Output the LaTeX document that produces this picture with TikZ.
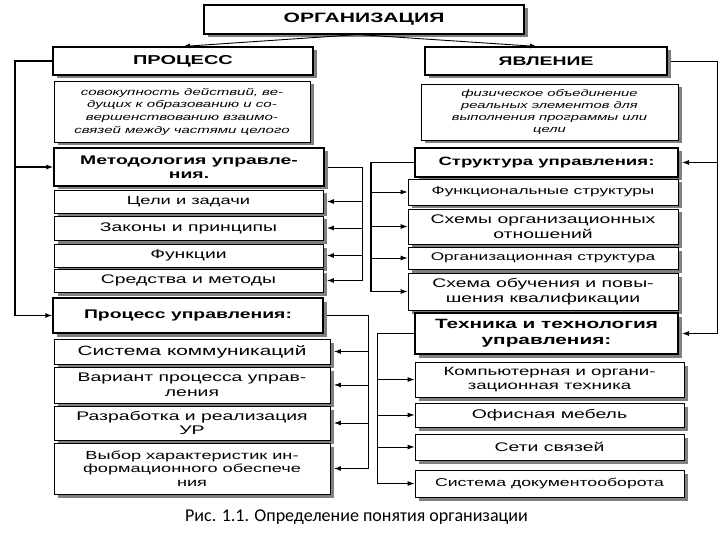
\documentclass[tikz,border=0pt]{standalone}
\usepackage{fontspec}
\setmainfont{Liberation Sans}[FakeStretch=1.55]
\newfontfamily\capfont{Carlito}
\usetikzlibrary{shadows,arrows.meta,calc}
\newcommand\fsz[2]{\fontsize{#1}{#2}\selectfont}
\begin{document}
\begin{tikzpicture}[x=1pt,y=-1pt,
  box/.style={draw=black, line width=0.9pt, fill=white, inner sep=0pt, align=center,
    drop shadow={shadow xshift=3.5pt, shadow yshift=-3.5pt, fill=black!50, opacity=1},
    font=\fsz{12.5}{14.5}},
  hbox/.style={box, line width=1.1pt, font=\fsz{12.5}{14.5}\bfseries},
  dbox/.style={box, font=\fsz{9.7}{12.7}\itshape},
  ln/.style={line width=0.9pt},
  lnt/.style={line width=1.4pt},
  arr/.style={line width=0.9pt, -{Latex[length=7pt,width=5pt]}},
  arrt/.style={line width=1.4pt, -{Latex[length=7pt,width=5pt]}}]
\useasboundingbox (0,0) rectangle (720,540);
% top
\node[hbox, minimum width=320pt, minimum height=29pt, font=\fsz{13.6}{15}\bfseries] (org) at (364,19.5) {ОРГАНИЗАЦИЯ};
\node[hbox, minimum width=260pt, minimum height=28pt, font=\fsz{12.9}{15}\bfseries] (proc) at (183,61) {ПРОЦЕСС};
\node[hbox, minimum width=242pt, minimum height=28pt] (yavl) at (546,61) {ЯВЛЕНИЕ};
\node[dbox, minimum width=256pt, minimum height=61pt] (descL) at (182,111.5)
  {совокупность действий, ве-\\дущих к образованию и со-\\вершенствованию взаимо-\\связей между частями целого};
\node[dbox, minimum width=257pt, minimum height=56pt, font=\fsz{9.5}{12.3}\itshape] (descR) at (549.5,112)
  {физическое объединение\\реальных элементов для\\выполнения программы или\\цели};
% left column
\node[hbox, minimum width=270pt, minimum height=38pt] (met) at (189,167) {Методология управле-\\ния.};
\node[box, minimum width=269pt, minimum height=23pt, font=\fsz{11.8}{14}] (celi) at (188.5,201.5) {Цели и задачи};
\node[box, minimum width=269pt, minimum height=24pt] (zak) at (188.5,228) {Законы и принципы};
\node[box, minimum width=269pt, minimum height=23pt] (funk) at (188.5,255.5) {Функции};
\node[box, minimum width=269pt, minimum height=23pt] (sred) at (188.5,280.5) {Средства и методы};
\node[hbox, minimum width=270pt, minimum height=35pt] (pu) at (188,315.5) {Процесс управления:};
\node[box, minimum width=276pt, minimum height=25pt, font=\fsz{13.4}{15}] (sk) at (192,351.5) {Система коммуникаций};
\node[box, minimum width=276pt, minimum height=36pt] (var) at (192,385) {Вариант процесса управ-\\ления};
\node[box, minimum width=276pt, minimum height=34pt] (raz) at (192,423) {Разработка и реализация\\УР};
\node[box, minimum width=276pt, minimum height=51pt, font=\fsz{11.7}{13.5}] (vyb) at (192,468.5) {Выбор характеристик ин-\\формационного обеспече\\ния};
% right column
\node[hbox, minimum width=263pt, minimum height=29pt, font=\fsz{12}{14}\bfseries] (str) at (546.5,162.5) {Структура управления:};
\node[box, minimum width=270pt, minimum height=26pt, font=\fsz{11.1}{13}] (fs) at (543,192) {Функциональные структуры};
\node[box, minimum width=270pt, minimum height=35pt] (sh) at (543,226.5) {Схемы организационных\\отношений};
\node[box, minimum width=270pt, minimum height=22pt, font=\fsz{11.1}{13}] (os) at (543,258) {Организационная структура};
\node[box, minimum width=270pt, minimum height=37pt] (so) at (543,291.5) {Схема обучения и повы-\\шения квалификации};
\node[hbox, minimum width=263pt, minimum height=41pt, font=\fsz{13.4}{15.5}\bfseries] (tt) at (546.5,333.5) {Техника и технология\\управления:};
\node[box, minimum width=269pt, minimum height=35pt, font=\fsz{12}{14.5}] (kt) at (549.5,379.5) {Компьютерная и органи-\\зационная техника};
\node[box, minimum width=269pt, minimum height=24pt] (om) at (549.5,415) {Офисная мебель};
\node[box, minimum width=269pt, minimum height=26pt] (ss) at (549.5,447) {Сети связей};
\node[box, minimum width=269pt, minimum height=27pt, font=\fsz{11.4}{13}] (sd) at (549.5,483.5) {Система документооборота};
% caption
\node[font=\capfont\fsz{18}{20}, inner sep=0pt, anchor=base] (cap) at (356.5,521) {Рис. 1.1. Определение понятия организации};
% top arrows
\draw[arr] ([xshift=-6pt]org.south) -- (proc.north);
\draw[arr] ([xshift=-6pt]org.south) -- ([xshift=-9pt]yavl.north);
% outer left
\coordinate (L) at (15,0);
\draw[lnt] (proc.west) -| (L |- pu.west);
\draw[arrt] (L |- met.west) -- (met.west);
\draw[arrt] (L |- pu.west) -- (pu.west);
% outer right
\coordinate (R) at (717,0);
\draw[ln] ([xshift=3.5pt]yavl.east) -| (R |- tt.east);
\draw[arr] (R |- str.east) -- ([xshift=3.5pt]str.east);
\draw[arr] (R |- tt.east) -- ([xshift=3.5pt]tt.east);
% left inner upper
\coordinate (A) at (362,0);
\draw[ln] ([xshift=3.5pt]met.east) -| (A |- sred.east);
\foreach \n in {celi,zak,funk,sred} \draw[arr] (A |- \n.east) -- ([xshift=3.5pt]\n.east);
% right inner upper
\coordinate (B) at (371,0);
\draw[lnt] (str.west) -| (B |- so.west);
\foreach \n in {fs,sh,os,so} \draw[arr] (B |- \n.west) -- (\n.west);
% left inner lower
\coordinate (C) at (368,0);
\draw[ln] ([xshift=3.5pt]pu.east) -| (C |- vyb.east);
\foreach \n in {sk,var,raz,vyb} \draw[arr] (C |- \n.east) -- ([xshift=3.5pt]\n.east);
% right inner lower
\coordinate (D) at (377,0);
\draw[ln] (tt.west) -| (D |- sd.west);
\foreach \n in {kt,om,ss,sd} \draw[arr] (D |- \n.west) -- (\n.west);
\end{tikzpicture}
\end{document}
